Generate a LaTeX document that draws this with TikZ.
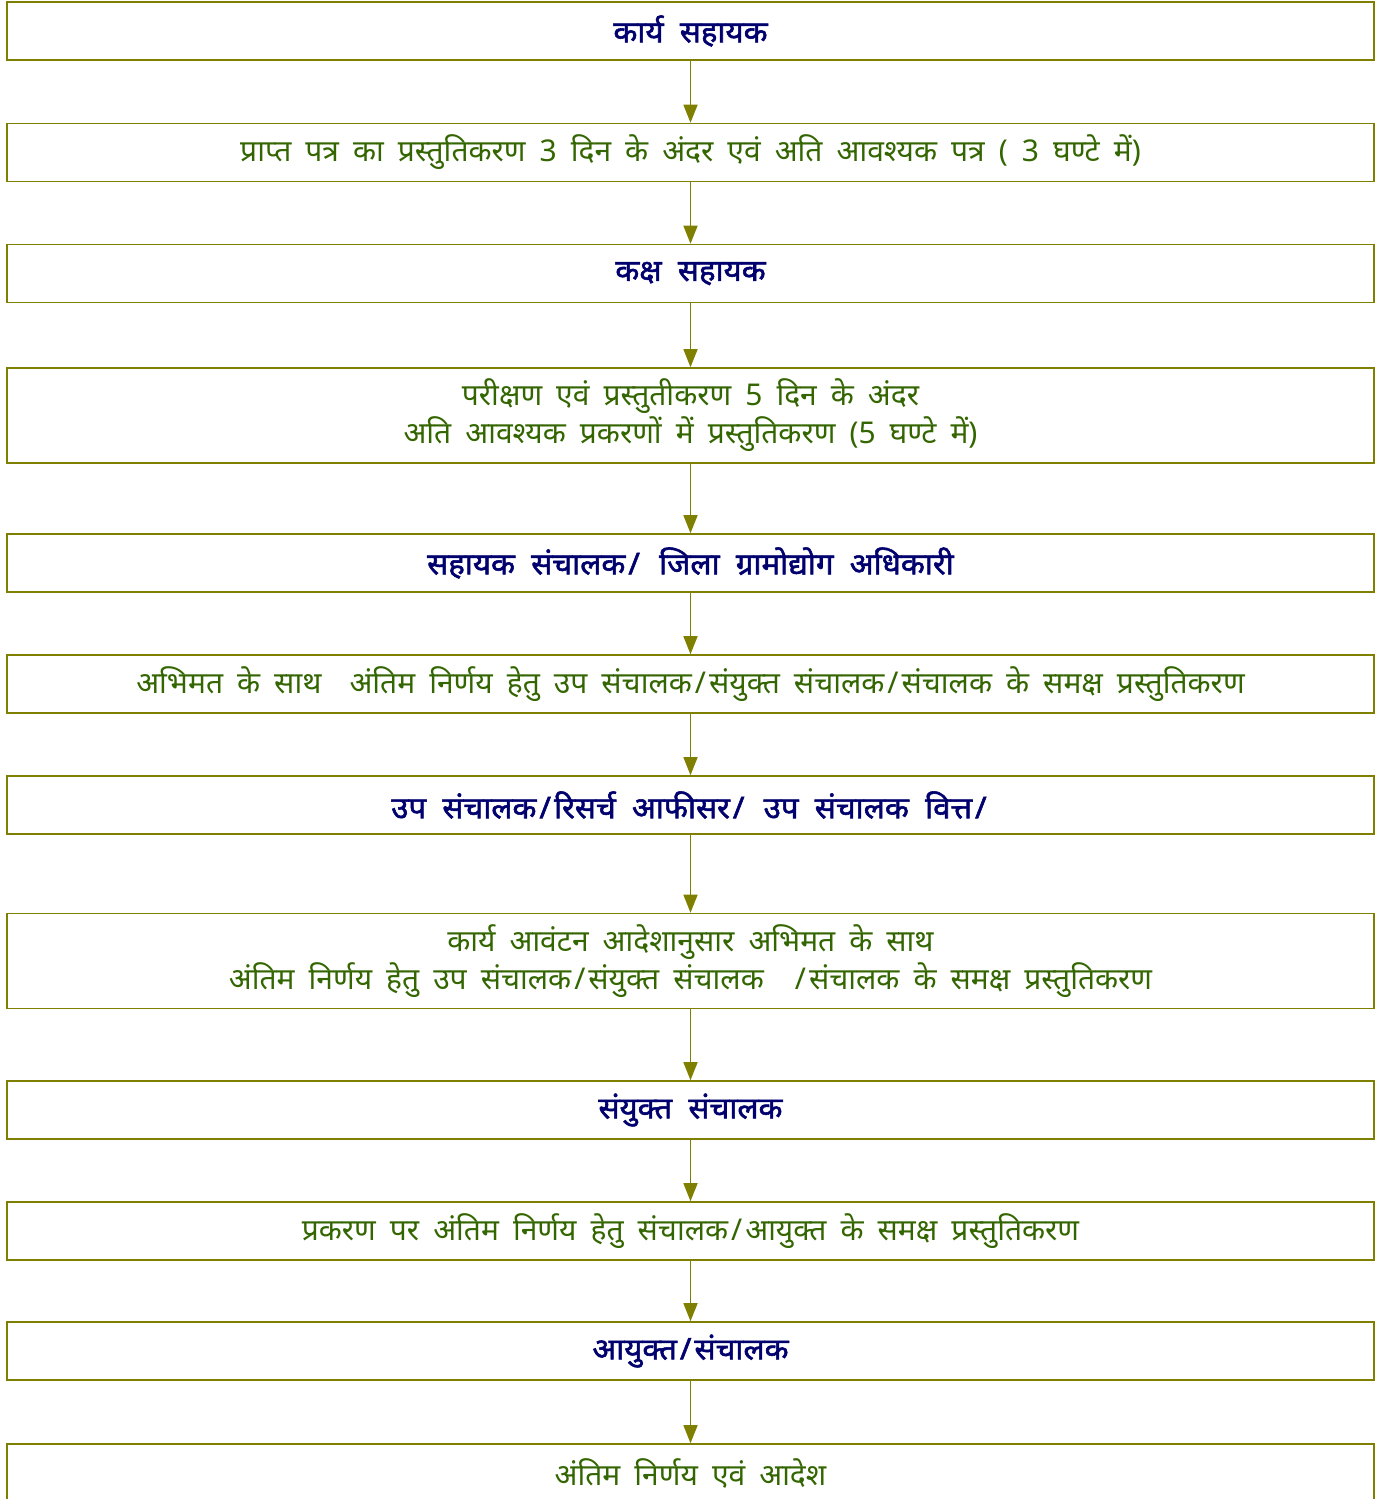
\documentclass[tikz,border=0pt]{standalone}
\usepackage{fontspec}
\setmainfont[Script=Devanagari,WordSpace=1.8,BoldFont=Noto Sans,BoldFeatures={FakeBold=1.8,FakeStretch=1.04,WordSpace=2.0}]{Noto Sans}
\usetikzlibrary{arrows.meta}
\definecolor{olv}{RGB}{128,128,0}
\definecolor{gtxt}{RGB}{51,102,0}
\definecolor{btxt}{RGB}{0,0,110}
\newcommand{\slsh}{\hspace{3pt}/\hspace{3pt}}
\begin{document}
\begin{tikzpicture}[x=1pt,y=-1pt,
  box/.style={draw=olv,line width=1.6pt,minimum width=1367pt,inner sep=0pt,align=center,font=\fontsize{30}{38}\selectfont},
  gbox/.style={box,text=gtxt},
  bbox/.style={box,text=btxt,font=\fontsize{30}{38}\selectfont\bfseries},
  one/.style={minimum height=58pt},
  two/.style={minimum height=95pt},
  arr/.style={draw=olv,line width=1.6pt,-{Triangle[width=14pt,length=18pt]}}]
\useasboundingbox (0,0) rectangle (1390,1499);
\node[bbox,one] (b1) at (690.5,31) {कार्य सहायक};
\node[gbox,one] (b2) at (690.5,152.5) {प्राप्त पत्र का प्रस्तुतिकरण 3 दिन के अंदर एवं अति आवश्यक पत्र ( 3 घण्टे में)};
\node[bbox,one] (b3) at (690.5,273.5) {कक्ष सहायक};
\node[gbox,two] (b4) at (690.5,415.5) {परीक्षण एवं प्रस्तुतीकरण 5 दिन के अंदर\\अति आवश्यक प्रकरणों में प्रस्तुतिकरण (5 घण्टे में)};
\node[bbox,one] (b5) at (690.5,563) {सहायक संचालक\slsh{} जिला ग्रामोद्योग अधिकारी};
\node[gbox,one] (b6) at (690.5,684) {अभिमत के साथ \ अंतिम निर्णय हेतु उप संचालक\slsh{}संयुक्त संचालक\slsh{}संचालक के समक्ष प्रस्तुतिकरण};
\node[bbox,one] (b7) at (690.5,805) {उप संचालक\slsh{}रिसर्च आफीसर\slsh{} उप संचालक वित्त\slsh};
\node[gbox,two] (b8) at (690.5,961) {कार्य आवंटन आदेशानुसार अभिमत के साथ\\अंतिम निर्णय हेतु उप संचालक\slsh{}संयुक्त संचालक \ \slsh{}संचालक के समक्ष प्रस्तुतिकरण};
\node[bbox,one] (b9) at (690.5,1110) {संयुक्त संचालक};
\node[gbox,one] (b10) at (690.5,1231) {प्रकरण पर अंतिम निर्णय हेतु संचालक\slsh{}आयुक्त के समक्ष प्रस्तुतिकरण};
\node[bbox,one] (b11) at (690.5,1351) {आयुक्त\slsh{}संचालक};
\node[gbox,one] (b12) at (690.5,1473) {अंतिम निर्णय एवं आदेश};
\foreach \a/\b in {b1/b2,b2/b3,b3/b4,b4/b5,b5/b6,b6/b7,b7/b8,b8/b9,b9/b10,b10/b11,b11/b12}
  \draw[arr] (\a.south) -- (\b.north);
\end{tikzpicture}
\end{document}
